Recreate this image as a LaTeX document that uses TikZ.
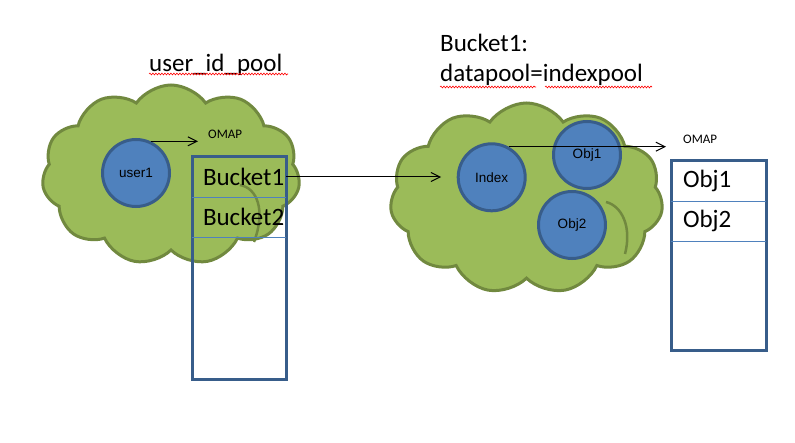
\documentclass[tikz,border=0pt]{standalone}
\usepackage{fontspec}
\setmainfont{Carlito}
\newfontfamily\arialfont{Liberation Sans}
\usetikzlibrary{positioning,shapes.symbols,arrows.meta,decorations.pathmorphing}
\definecolor{poolgreen}{HTML}{9BBB59}
\definecolor{poolline}{HTML}{71893F}
\definecolor{objblue}{HTML}{4F81BD}
\definecolor{objline}{HTML}{385D8A}

\begin{document}
\begin{tikzpicture}[x=1pt,y=1pt,
  pool/.style={cloud, cloud puffs=11, cloud puff arc=110, aspect=1.4,
    draw=poolline, fill=poolgreen, line width=3pt, inner sep=0pt},
  puffline/.style={draw=poolline, line width=2.5pt},
  obj/.style={circle, draw=objline, fill=objblue, line width=3pt,
    minimum size=67pt, inner sep=0pt, font=\arialfont\fontsize{13.5}{16}\selectfont},
  mapbox/.style={draw=objline, line width=3pt, inner sep=0pt, outer sep=0pt},
  maprow/.style={minimum height=40pt, text width=83pt, align=left,
    inner sep=0pt, outer sep=0pt, font=\fontsize{25}{30}\selectfont},
  rowline/.style={draw=objblue, line width=0.9pt},
  maplabel/.style={font=\fontsize{13}{16}\selectfont, inner sep=0pt},
  title/.style={font=\fontsize{25}{30}\selectfont, inner sep=0pt},
  link/.style={-{Straight Barb[length=9pt,width=9pt]}, line width=1pt},
  spell/.style={draw=red, line width=0.6pt,
    decorate, decoration={snake, segment length=3pt, amplitude=0.9pt}}]
\useasboundingbox (0,0) rectangle (795,442);

% titles
\node[title, anchor=base west] (uidtitle) at (149,370) {user\_id\_pool};
\node[title, anchor=base west] (bkttitle) at (440,390) {Bucket1:};
\node[title, anchor=base west] (dptitle) at (440,360) {datapool=indexpool};
\draw[spell] (149,368) -- (288,368);
\draw[spell] (440,355) -- (536,355);
\draw[spell] (545,355) -- (652,355);

% user_id_pool
\node[pool, minimum width=258pt, minimum height=180pt] (uidpool) at (171,267) {};
\draw[puffline] (240,257) .. controls (257,254) and (266,232) .. (254,200);
\node[obj] (user1) at (136,269) {user1};

% omap of user1
\node[mapbox, minimum width=94pt, minimum height=222pt] (lbox) at (239,174) {};
\node[maprow, anchor=north east] (b1) at (lbox.north east) {Bucket1};
\node[maprow, below=0pt of b1] (b2) {Bucket2};
\draw[rowline] (b1.south -| lbox.west) -- (b1.south -| lbox.east);
\draw[rowline] (b2.south -| lbox.west) -- (b2.south -| lbox.east);

\node[maplabel, anchor=west] (lomap) at (208,308) {OMAP};
\coordinate (lomapend) at (198,305);
\draw[link] (user1.65) -- (user1.65 -| lomapend);

% indexpool
\node[pool, minimum width=273pt, minimum height=191pt] (idxpool) at (526.5,243.5) {};
\draw[puffline] (606,240) .. controls (622,236) and (632,215) .. (625,188);
\node[obj] (index) at (491.7,264.7) {Index};
\node[obj] (obj1) at (587,287) {Obj1};
\node[obj] (obj2) at (572,217) {Obj2};

% omap of index
\node[mapbox, minimum width=95pt, minimum height=189pt] (rbox) at (718.5,186.5) {};
\node[maprow, anchor=north east] (o1) at (rbox.north east) {Obj1};
\node[maprow, below=0pt of o1] (o2) {Obj2};
\draw[rowline] (o1.south -| rbox.west) -- (o1.south -| rbox.east);
\draw[rowline] (o2.south -| rbox.west) -- (o2.south -| rbox.east);

\node[maplabel, anchor=west] (romap) at (683,303) {OMAP};
\coordinate (romapend) at (666,298);
\draw[link] (index.61) -- (index.61 -| romapend);

% bucket1 -> indexpool
\coordinate (idxin) at (441,264);
\draw[link] (b1.east) -- (b1.east -| idxin);

\end{tikzpicture}
\end{document}
